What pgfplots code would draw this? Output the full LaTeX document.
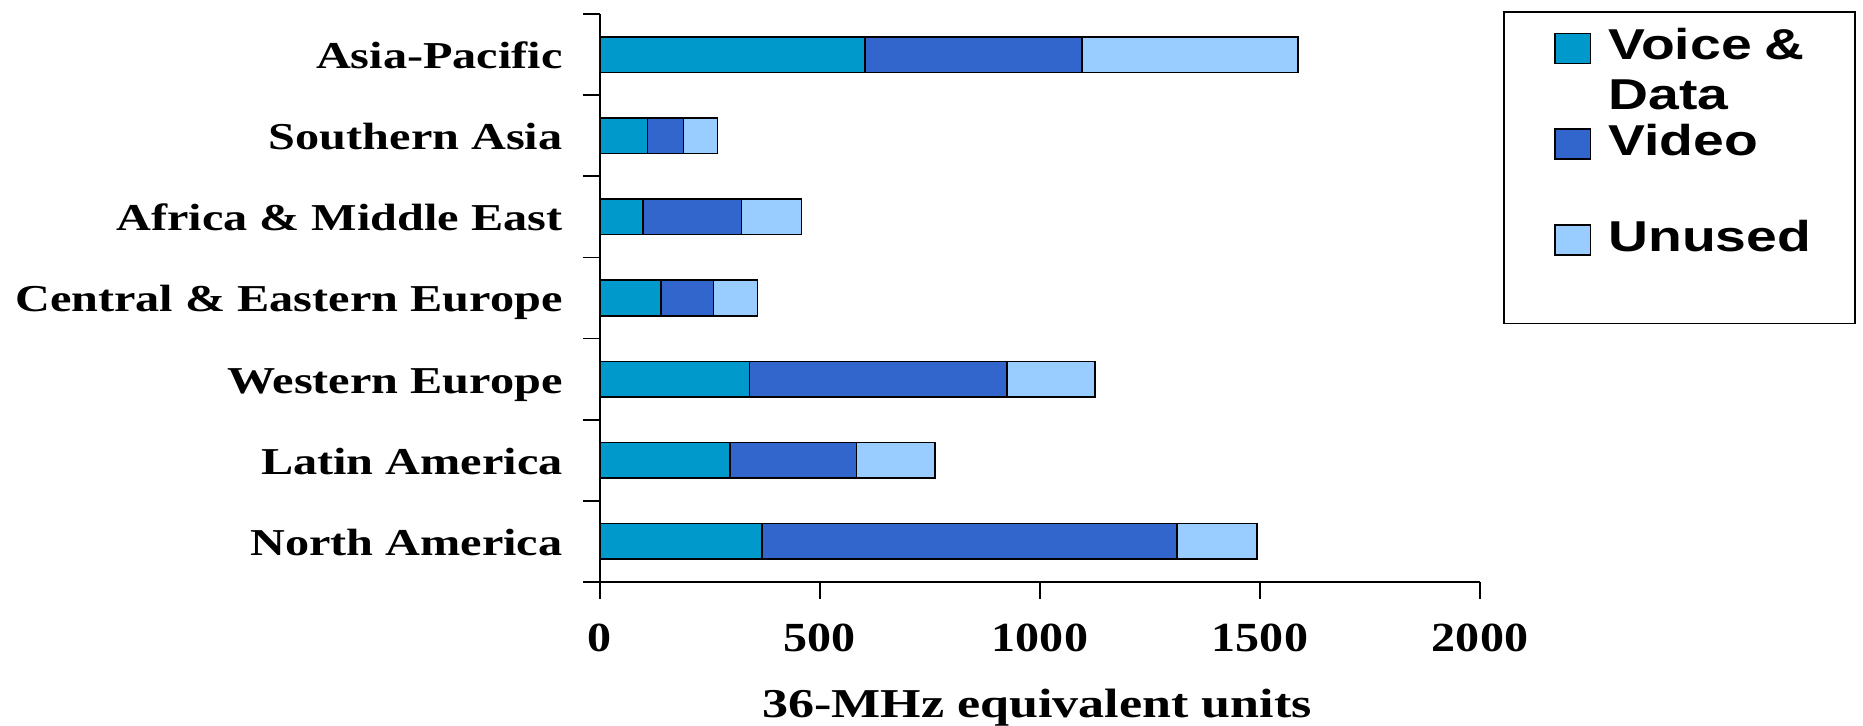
\documentclass[border=0pt]{standalone}
\usepackage{fontspec}
\usepackage{pgfplots}
\pgfplotsset{compat=1.18}
\newfontfamily\serifx{Liberation Serif}[FakeStretch=1.27]
\newfontfamily\serift{Liberation Serif}[FakeStretch=1.16]
\newfontfamily\sansx{Liberation Sans}[FakeStretch=1.28]
\definecolor{cvoice}{HTML}{0099CC}
\definecolor{cvideo}{HTML}{3366CC}
\definecolor{cunused}{HTML}{99CCFF}
\begin{document}
\begin{tikzpicture}
\begin{axis}[
  scale only axis, width=440pt, height=284pt,
  xbar stacked, bar width=17.75pt,
  xmin=0, xmax=2000, ymin=-0.5, ymax=6.5,
  axis x line*=bottom, axis y line*=left,
  axis line style={line width=0.8pt, -},
  tick align=outside,
  major tick length=8.5pt,
  every tick/.style={black, line width=0.8pt},
  /pgf/number format/assume math mode=true,
  xtick={0,500,1000,1500,2000},
  xticklabels={0,500,1000,1500,2000},
  xticklabel style={font=\serift\bfseries\fontsize{20.7}{24}\selectfont, anchor=base, inner sep=0pt, yshift=-26.5pt},
  ytick={-0.5,0.5,...,6.5}, yticklabels={},
  extra y ticks={0,1,2,3,4,5,6},
  extra y tick labels={North America, Latin America, Western Europe, Central \& Eastern Europe, Africa \& Middle East, Southern Asia, Asia-Pacific},
  extra y tick style={major tick length=0pt, yticklabel style={font=\serifx\bfseries\fontsize{19}{22}\selectfont, anchor=base east, inner sep=0pt, xshift=-18.5pt, yshift=-7pt}},
  xlabel={36-MHz equivalent units},
  xlabel style={font=\serifx\bfseries\fontsize{20.5}{24}\selectfont, at={(axis description cs:0.4966,-0.2377)}, anchor=base},
  legend style={name=leg, draw=none, fill=white, at={(axis description cs:1.02727,1.00352)}, anchor=north west,
    inner xsep=25pt, inner ysep=10.1pt, row sep=32.1pt, column sep=8.5pt,
    font=\sansx\bfseries\fontsize{21.6}{25}\selectfont, nodes={inner sep=0pt}},
  legend cell align=left,
  legend image code/.code={\draw[#1, line width=0.8pt] (0pt,-1pt) rectangle (17.7pt,14pt);},
]
\addplot[fill=cvoice, draw=black, line width=0.8pt] coordinates {(368,0) (295,1) (340,2) (139,3) (98,4) (108,5) (602,6)};
\addplot[fill=cvideo, draw=black, line width=0.8pt] coordinates {(943,0) (288,1) (585,2) (119,3) (224,4) (82,5) (494,6)};
\addplot[fill=cunused, draw=black, line width=0.8pt] coordinates {(182,0) (178,1) (200,2) (100,3) (136,4) (77,5) (491,6)};
\addlegendentry{\smash{\parbox[t]{98pt}{Voice \&\\Data}}}
\addlegendentry{\smash{\makebox[98pt][l]{Video}}}
\addlegendentry{\smash{\makebox[98pt][l]{Unused}}}
\end{axis}
\draw[line width=0.8pt] (leg.north west) rectangle ([yshift=-23.55pt]leg.south east);
\pgfresetboundingbox
\path[use as bounding box] (-300pt,-72pt) rectangle (631.5pt,291pt);
\end{tikzpicture}
\end{document}
